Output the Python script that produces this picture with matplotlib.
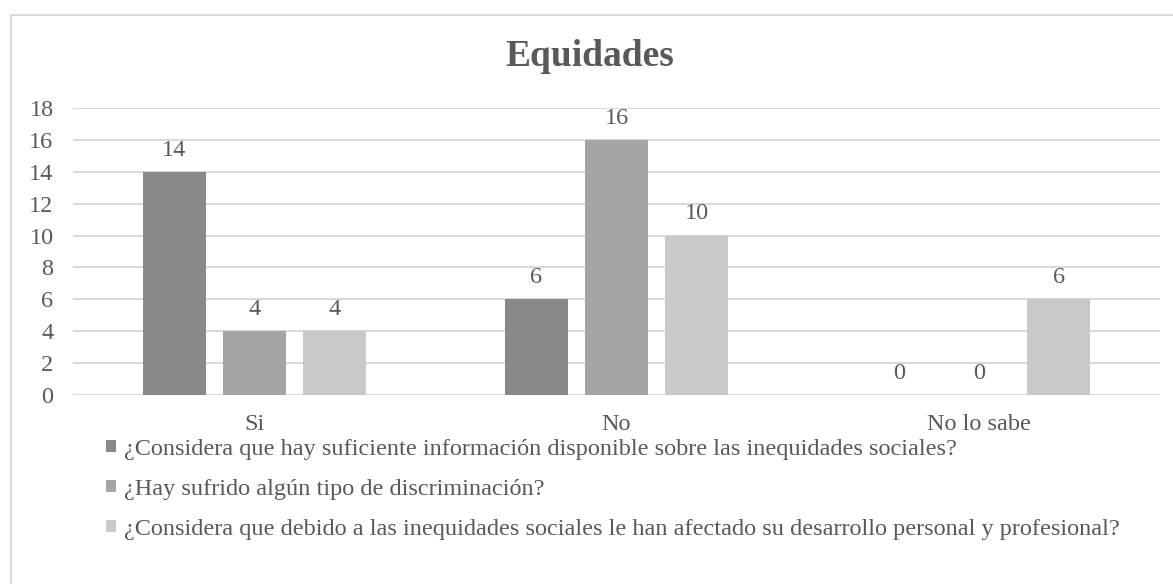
import matplotlib
matplotlib.use("Agg")
import matplotlib.pyplot as plt
import matplotlib.patches as mpatches
import numpy as np

categories = ["Si", "No", "No lo sabe"]
series_labels = [
    "¿Considera que hay suficiente información disponible sobre las inequidades sociales?",
    "¿Hay sufrido algún tipo de discriminación?",
    "¿Considera que debido a las inequidades sociales le han afectado su desarrollo personal y profesional?",
]
series_values = [
    [14, 6, 0],
    [4, 16, 0],
    [4, 10, 6],
]
colors = ["#898989", "#a5a5a5", "#c9c9c9"]
yticks = [0, 2, 4, 6, 8, 10, 12, 14, 16, 18]
title = "Equidades"

txt = "#595959"
fs = 17.5
plt.rcParams['font.family'] = ['Liberation Serif', 'DejaVu Serif']

W, H = 1173, 584
fig = plt.figure(figsize=(W / 100, H / 100), dpi=100)
ax = fig.add_axes([73 / W, 1 - 395 / H, (1160 - 73) / W, (395 - 108) / H])

x = np.arange(len(categories))
bw = 0.174
off = 0.221
bars = []
for i, (vals, c, lab) in enumerate(zip(series_values, colors, series_labels)):
    b = ax.bar(x + (i - 1) * off, vals, width=bw, color=c, label=lab, zorder=3)
    bars.append(b)
    for rect, v in zip(b, vals):
        ax.annotate(str(v), (rect.get_x() + rect.get_width() / 2, v),
                    xytext=(0, 8), textcoords="offset points",
                    ha="center", va="bottom", fontsize=fs, color=txt)

ax.set_xlim(-0.5, 2.5)
ax.set_ylim(0, 18)
ax.set_yticks(yticks)
ax.set_xticks(x)
ax.set_xticklabels(categories)
ax.tick_params(axis='both', length=0, labelsize=fs, colors=txt)
ax.tick_params(axis='x', pad=14)
ax.tick_params(axis='y', pad=14)
ax.grid(axis='y', color="#d9d9d9", lw=1.5, zorder=0)
for s in ax.spines.values():
    s.set_visible(False)

fig.text(590 / W, 1 - 57 / H, title, ha='center', va='center', fontsize=27,
         fontweight='bold', color=txt)

leg = fig.legend(handles=bars, labels=series_labels, loc='upper left',
                 bbox_to_anchor=(84 / W, 1 - 417 / H), frameon=False,
                 fontsize=fs, labelcolor=txt, handlelength=0.4, handleheight=0.4,
                 handletextpad=0.35, labelspacing=0.78)

fig.patches.append(mpatches.Rectangle((11 / W, -0.1), 1.2, 1.1 - 15 / H,
                                      transform=fig.transFigure, fill=False,
                                      edgecolor="#d9d9d9", lw=1.5))

fig.savefig("out.png", dpi=100, facecolor="white")
